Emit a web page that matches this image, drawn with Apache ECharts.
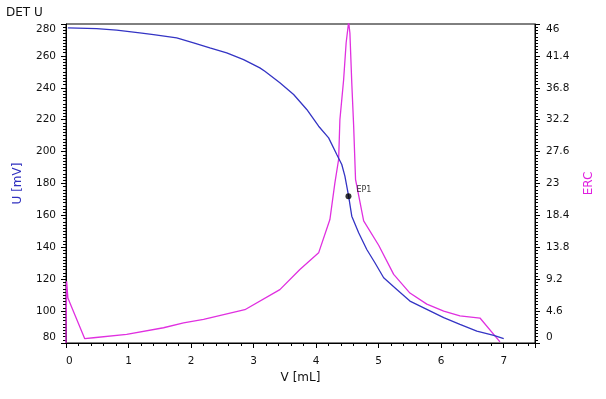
<!DOCTYPE html>
<html>
<head>
<meta charset="utf-8">
<script src="https://cdn.jsdelivr.net/npm/echarts@6/dist/echarts.min.js"></script>
<style>
html,body{margin:0;padding:0;background:#fff;}
#chart{width:606px;height:399px;background:#fff;}
</style>
</head>
<body>
<div id="chart"></div>
<script>
// ---- data ----
const uVolume = [0.03, 0.49, 0.81, 1.18, 1.40, 1.77, 2.04, 2.30, 2.57, 2.84, 3.10, 3.18, 3.42, 3.64, 3.85, 4.04, 4.20, 4.33, 4.41, 4.46, 4.52, 4.57, 4.68, 4.81, 4.94, 5.08, 5.29, 5.50, 5.77, 6.04, 6.30, 6.57, 6.84, 7.00];
const uValues = [277.6, 277.1, 276.1, 274.4, 273.4, 271.3, 268.2, 265.0, 261.9, 257.7, 252.5, 250.4, 243.1, 235.8, 226.4, 215.9, 208.6, 198.2, 191.9, 184.6, 171.9, 159.5, 149.1, 138.6, 130.3, 120.9, 113.6, 106.3, 101.1, 95.9, 91.7, 87.5, 84.8, 82.7];

const ercVolume = [0.00, 0.01, 0.03, 0.30, 0.44, 0.97, 1.56, 1.88, 2.20, 2.86, 3.42, 3.74, 4.04, 4.22, 4.30, 4.36, 4.38, 4.44, 4.48, 4.52, 4.54, 4.57, 4.60, 4.63, 4.76, 5.00, 5.24, 5.50, 5.77, 6.04, 6.30, 6.62, 6.94];
const ercValues = [0.0, 8.9, 6.5, 0.62, 0.76, 1.24, 2.2, 2.9, 3.4, 4.8, 7.7, 10.6, 13.0, 17.8, 23.1, 26.5, 32.2, 38.0, 43.3, 46.3, 44.7, 37.5, 31.3, 23.6, 17.6, 14.1, 9.9, 7.2, 5.6, 4.6, 3.9, 3.6, 0.16];

const epVolume = [4.517];
const epValue = [172.0];
const epLabel = ['EP1'];

// axis tick settings (labels: V 0..7 step 1, U 80..280 step 20, ERC 0..46 step 4.6)
const xRange = [0, 7.5, 1];
const uRange = [80, 280, 20];
const ercRange = [0, 46, 4.6];

// ---- chart ----
const FONT = 'DejaVu Sans';
const uPairs = uVolume.map((v, i) => [v, uValues[i]]);
const ercPairs = ercVolume.map((v, i) => [v, ercValues[i]]);
const epPairs = epVolume.map((v, i) => [v, epValue[i]]);

function tick(len) { return { show: true, length: len, lineStyle: { color: '#000', width: 1 } }; }
function minor(n) { return { show: true, splitNumber: n, length: 3, lineStyle: { color: '#000', width: 1 } }; }
function line() { return { show: true, onZero: false, lineStyle: { color: '#000', width: 1 } }; }

const chart = echarts.init(document.getElementById('chart'));
chart.setOption({
  animation: false,
  title: {
    text: 'DET U', left: 6, top: 7, padding: 0,
    textStyle: { fontFamily: FONT, fontSize: 12, fontWeight: 'normal', color: '#111' }
  },
  grid: { left: 66, right: 71, top: 24, bottom: 56, show: true, borderColor: '#000', borderWidth: 1 },
  xAxis: {
    type: 'value', min: xRange[0], max: xRange[1], interval: xRange[2],
    name: 'V [mL]', nameLocation: 'middle', nameGap: 29,
    nameTextStyle: { fontFamily: FONT, fontSize: 12, color: '#111' },
    axisLine: line(), axisTick: tick(5), minorTick: minor(5),
    splitLine: { show: false },
    axisLabel: {
      margin: 13, fontFamily: FONT, fontSize: 10.5, color: '#111',
      alignMinLabel: 'left', showMaxLabel: false
    }
  },
  yAxis: [{
    type: 'value', min: uRange[0], max: uRange[1], interval: uRange[2],
    name: 'U [mV]', nameLocation: 'middle', nameGap: 42,
    nameTextStyle: { fontFamily: FONT, fontSize: 12, color: '#3030c0' },
    axisLine: line(), axisTick: tick(5), minorTick: minor(10),
    splitLine: { show: false },
    axisLabel: {
      margin: 10, fontFamily: FONT, fontSize: 10.5, color: '#111',
      verticalAlignMaxLabel: 'top', verticalAlignMinLabel: 'bottom'
    }
  }, {
    type: 'value', min: ercRange[0], max: ercRange[1], interval: ercRange[2],
    name: 'ERC', nameLocation: 'middle', nameGap: 48,
    nameTextStyle: { fontFamily: FONT, fontSize: 12, color: '#e020e0' },
    axisLine: line(), axisTick: tick(5), minorTick: minor(10),
    splitLine: { show: false },
    axisLabel: {
      margin: 11, fontFamily: FONT, fontSize: 10.5, color: '#111',
      verticalAlignMaxLabel: 'top', verticalAlignMinLabel: 'bottom'
    }
  }],
  series: [{
    name: 'ERC', type: 'line', yAxisIndex: 1, data: ercPairs,
    showSymbol: false, smooth: false, clip: true,
    lineStyle: { color: '#e030e0', width: 1.3 }, z: 2
  }, {
    name: 'U', type: 'line', yAxisIndex: 0, data: uPairs,
    showSymbol: false, smooth: false, clip: true,
    lineStyle: { color: '#3434c4', width: 1.3 }, z: 3
  }, {
    name: 'EP', type: 'scatter', yAxisIndex: 0, data: epPairs,
    symbol: 'circle', symbolSize: 6, itemStyle: { color: '#000' }, z: 5,
    label: {
      show: true, position: 'right', distance: 5, offset: [0, -6],
      formatter: function (p) { return epLabel[p.dataIndex]; },
      fontFamily: FONT, fontSize: 8, color: '#000'
    }
  }]
});
</script>
</body>
</html>
